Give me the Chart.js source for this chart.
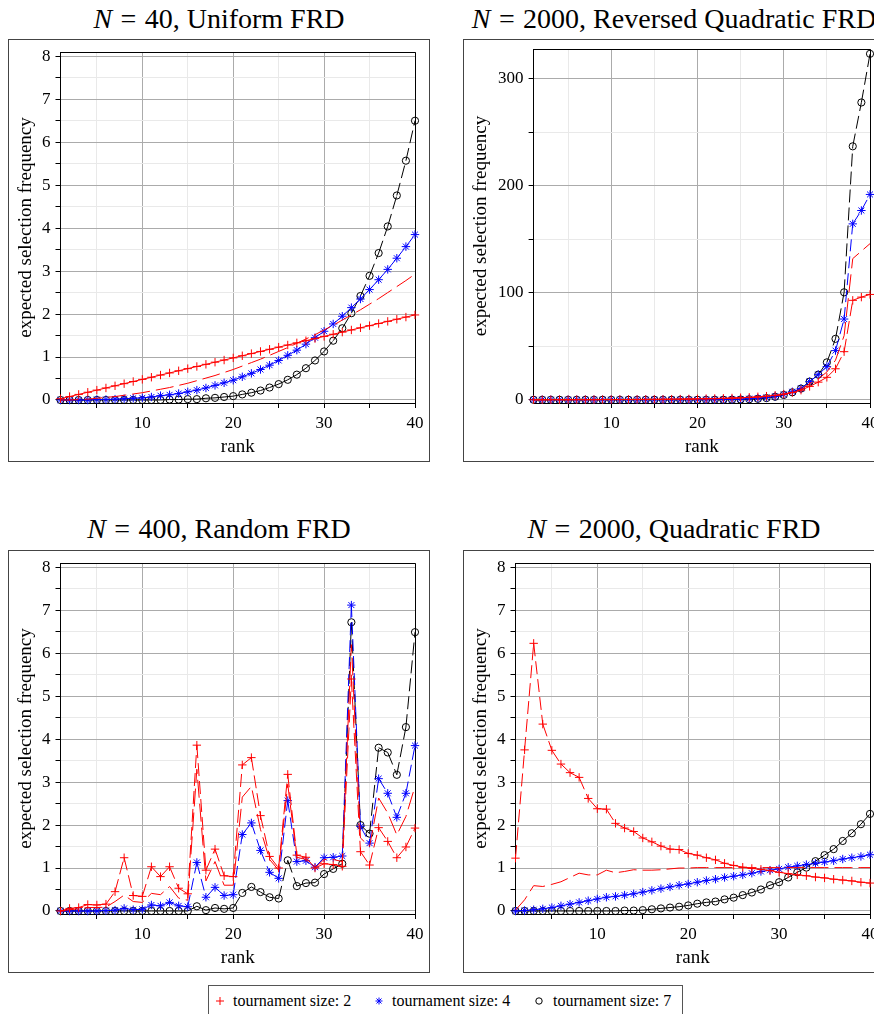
<!DOCTYPE html>
<html>
<head>
<meta charset="utf-8">
<title>Expected selection frequency</title>
<script src="https://cdn.jsdelivr.net/npm/chart.js@4/dist/chart.umd.min.js"></script>
<style>
  html, body { margin: 0; padding: 0; overflow: hidden; background: #fff; }
  body { position: relative; width: 874px; height: 1014px; font-family: "Liberation Serif", "Times New Roman", serif; color: #000; }
  .title { position: absolute; width: 422px; text-align: center; font-size: 28px; line-height: 1; white-space: nowrap; }
  .title .eq { margin: 0 0.3em; }
  .frame { position: absolute; width: 422px; height: 423px; border: 1px solid #444; box-sizing: border-box; }
  .frame canvas { display: block; }
  .legend { position: absolute; left: 208px; top: 985px; width: 475px; height: 40px; border: 1px solid #555; box-sizing: border-box; }
  .legend svg { position: absolute; top: 10px; }
  .legend span { position: absolute; top: 6px; font-size: 16px; line-height: 18px; white-space: nowrap; }
</style>
</head>
<body>

<div class="title" style="left:8px; top:5px"><i>N</i><span class="eq">=</span>40, Uniform FRD</div>
<div class="frame" style="left:8px; top:39px"><canvas id="uniform" width="420" height="421"></canvas></div>

<div class="title" style="left:463px; top:5px"><i>N</i><span class="eq">=</span>2000, Reversed Quadratic FRD</div>
<div class="frame" style="left:463px; top:39px"><canvas id="reversed" width="420" height="421"></canvas></div>

<div class="title" style="left:8px; top:515px"><i>N</i><span class="eq">=</span>400, Random FRD</div>
<div class="frame" style="left:8px; top:550px"><canvas id="random" width="420" height="421"></canvas></div>

<div class="title" style="left:463px; top:515px"><i>N</i><span class="eq">=</span>2000, Quadratic FRD</div>
<div class="frame" style="left:463px; top:550px"><canvas id="quadratic" width="420" height="421"></canvas></div>

<div class="legend">
  <svg style="left:6px" width="10" height="10"><path d="M5 1V9M1 5H9" stroke="#f00" stroke-width="1"/></svg>
  <span style="left:24px">tournament size: 2</span>
  <svg style="left:165px" width="10" height="10"><path d="M5 1.5V8.5M1.5 5H8.5M2.5 2.5L7.5 7.5M7.5 2.5L2.5 7.5" stroke="#00f" stroke-width="1"/></svg>
  <span style="left:183px">tournament size: 4</span>
  <svg style="left:325px" width="10" height="10"><circle cx="5" cy="5" r="3.2" fill="none" stroke="#000" stroke-width="1"/></svg>
  <span style="left:344px">tournament size: 7</span>
</div>

<script>
const ranks = Array.from({ length: 40 }, (_, i) => i + 1);
const rankTicks = [5, 10, 15, 20, 25, 30, 35, 40];
const freqTicks = [0, 0.5, 1, 1.5, 2, 2.5, 3, 3.5, 4, 4.5, 5, 5.5, 6, 6.5, 7, 7.5, 8];
const bigFreqTicks = [0, 50, 100, 150, 200, 250, 300];

// N = 40, uniform fitness
const uniformT2 = [0.03, 0.08, 0.13, 0.18, 0.23, 0.28, 0.33, 0.38, 0.43, 0.48, 0.53, 0.58, 0.63, 0.68, 0.73, 0.78, 0.83, 0.88, 0.93, 0.98,
                   1.03, 1.08, 1.13, 1.18, 1.23, 1.28, 1.33, 1.38, 1.43, 1.48, 1.53, 1.58, 1.63, 1.68, 1.73, 1.78, 1.83, 1.88, 1.93, 1.98];
const uniformT3 = [0, 0, 0.01, 0.02, 0.04, 0.06, 0.08, 0.11, 0.14, 0.17, 0.21, 0.25, 0.29, 0.34, 0.39, 0.45, 0.51, 0.57, 0.64, 0.71,
                   0.79, 0.87, 0.95, 1.04, 1.13, 1.22, 1.32, 1.42, 1.52, 1.63, 1.74, 1.86, 1.98, 2.10, 2.23, 2.36, 2.50, 2.64, 2.78, 2.93];
const uniformT4 = [0, 0, 0, 0, 0.01, 0.01, 0.02, 0.03, 0.04, 0.05, 0.07, 0.10, 0.12, 0.15, 0.19, 0.23, 0.28, 0.34, 0.40, 0.46,
                   0.54, 0.62, 0.71, 0.81, 0.92, 1.04, 1.16, 1.30, 1.45, 1.60, 1.77, 1.95, 2.15, 2.35, 2.57, 2.80, 3.04, 3.30, 3.57, 3.85];
const uniformT7 = [0, 0, 0, 0, 0, 0, 0, 0, 0, 0, 0, 0, 0.01, 0.01, 0.02, 0.02, 0.04, 0.05, 0.07, 0.09,
                   0.13, 0.17, 0.22, 0.29, 0.37, 0.47, 0.59, 0.74, 0.92, 1.13, 1.38, 1.67, 2.02, 2.42, 2.89, 3.42, 4.04, 4.76, 5.57, 6.50];

// N = 2000, reversed quadratic fitness
const reversedT2 = [0.01, 0.02, 0.04, 0.06, 0.08, 0.1, 0.12, 0.15, 0.18, 0.21, 0.25, 0.29, 0.33, 0.38, 0.44, 0.5, 0.58, 0.67, 0.78, 0.9,
                    1.05, 1.2, 1.4, 1.65, 1.95, 2.3, 2.8, 3.4, 4.2, 5.3, 6.8, 9.0, 12.5, 16.5, 21.0, 29.0, 45.0, 93.0, 96.0, 98.5];
const reversedT3 = [0, 0.01, 0.02, 0.03, 0.04, 0.05, 0.06, 0.08, 0.1, 0.12, 0.14, 0.17, 0.2, 0.24, 0.28, 0.33, 0.39, 0.46, 0.55, 0.65,
                    0.78, 0.93, 1.1, 1.35, 1.65, 2.0, 2.5, 3.1, 3.9, 5.0, 6.8, 9.5, 15.0, 19.5, 26.0, 37.0, 60.0, 132.0, 139.0, 146.0];
const reversedT4 = [0, 0, 0, 0, 0, 0, 0, 0, 0, 0, 0, 0.01, 0.01, 0.01, 0.02, 0.02, 0.03, 0.04, 0.05, 0.06,
                    0.1, 0.15, 0.25, 0.4, 0.6, 1.0, 1.5, 2.2, 3.2, 5.0, 7.5, 10.5, 17.0, 23.5, 31.0, 46.0, 75.5, 164.5, 177.0, 192.0];
const reversedT7 = [0, 0, 0, 0, 0, 0, 0, 0, 0, 0, 0, 0, 0, 0, 0, 0, 0, 0, 0, 0,
                    0.01, 0.02, 0.05, 0.12, 0.25, 0.5, 0.9, 1.6, 2.8, 4.5, 7.0, 10.5, 17.0, 23.5, 35.0, 57.0, 100.5, 237.0, 278.0, 323.5];

// N = 400, random fitness
const randomT2 = [0, 0.06, 0.08, 0.15, 0.14, 0.16, 0.45, 1.24, 0.36, 0.34, 1.03, 0.80, 1.03, 0.53, 0.40, 3.86, 0.95, 1.44, 0.82, 0.80,
                  3.40, 3.57, 2.22, 1.27, 1.00, 3.18, 1.30, 1.25, 1.00, 1.10, 1.08, 1.04, 5.40, 1.38, 1.07, 1.94, 1.62, 1.24, 1.49, 1.93];
const randomT3 = [0, 0.03, 0.05, 0.08, 0.08, 0.09, 0.22, 0.37, 0.22, 0.2, 0.41, 0.38, 0.57, 0.3, 0.25, 3.3, 0.7, 1.15, 0.6, 0.6,
                  2.65, 2.9, 1.9, 1.2, 0.95, 2.95, 1.25, 1.2, 1.0, 1.2, 1.2, 1.15, 6.2, 1.7, 1.5, 2.63, 2.28, 1.77, 2.2, 2.9];
const randomT4 = [0, 0, 0, 0, 0, 0.01, 0.02, 0.06, 0.03, 0.04, 0.14, 0.12, 0.2, 0.12, 0.1, 1.13, 0.32, 0.55, 0.36, 0.38,
                  1.78, 2.05, 1.41, 0.9, 0.76, 2.57, 1.15, 1.17, 1.02, 1.24, 1.25, 1.28, 7.12, 1.97, 1.58, 3.08, 2.74, 2.18, 2.74, 3.85];
const randomT7 = [0, 0, 0, 0, 0, 0, 0, 0, 0, 0, 0, 0, 0, 0, 0, 0.11, 0.02, 0.07, 0.05, 0.07,
                  0.42, 0.56, 0.44, 0.32, 0.29, 1.18, 0.58, 0.65, 0.66, 0.86, 0.98, 1.1, 6.72, 2.0, 1.8, 3.8, 3.69, 3.17, 4.28, 6.49];

// N = 2000, quadratic fitness
const quadraticT2 = [1.23, 3.75, 6.23, 4.35, 3.74, 3.42, 3.22, 3.11, 2.62, 2.38, 2.37, 2.04, 1.93, 1.85, 1.70, 1.61, 1.51, 1.44, 1.43, 1.34,
                     1.30, 1.24, 1.19, 1.11, 1.06, 1.02, 0.99, 0.97, 0.94, 0.90, 0.87, 0.84, 0.82, 0.79, 0.77, 0.74, 0.72, 0.70, 0.67, 0.65];
const quadraticT3 = [0.02, 0.26, 0.59, 0.57, 0.62, 0.68, 0.78, 0.88, 0.84, 0.84, 0.95, 0.89, 0.92, 0.96, 0.95, 0.95, 0.96, 0.98, 1.0, 1.0,
                     1.01, 1.01, 1.01, 1.01, 1.01, 1.01, 1.01, 1.01, 1.01, 1.01, 1.01, 1.01, 1.01, 1.01, 1.01, 1.01, 1.01, 1.01, 1.01, 1.01];
const quadraticT4 = [0, 0.01, 0.03, 0.05, 0.08, 0.12, 0.16, 0.2, 0.24, 0.28, 0.32, 0.34, 0.37, 0.4, 0.44, 0.48, 0.52, 0.56, 0.6, 0.63,
                     0.67, 0.71, 0.74, 0.78, 0.81, 0.84, 0.88, 0.92, 0.95, 0.98, 1.02, 1.05, 1.08, 1.11, 1.14, 1.17, 1.21, 1.24, 1.27, 1.31];
const quadraticT7 = [0, 0, 0, 0, 0, 0, 0, 0, 0, 0, 0, 0, 0.01, 0.01, 0.02, 0.04, 0.06, 0.08, 0.1, 0.13,
                     0.17, 0.2, 0.22, 0.27, 0.31, 0.37, 0.43, 0.5, 0.6, 0.67, 0.78, 0.9, 1.01, 1.16, 1.3, 1.44, 1.63, 1.81, 2.02, 2.26];

const majorGrid = '#ababab';
const minorGrid = '#e9e9e9';

Chart.defaults.font.family = '"Liberation Serif", "Times New Roman", serif';
Chart.defaults.color = '#000';

// closes the plot box on the top and right
const plotBox = {
  id: 'plotBox',
  beforeDatasetsDraw(chart) {
    const { ctx, chartArea: a } = chart;
    ctx.save();
    ctx.strokeStyle = '#000';
    ctx.lineWidth = 1;
    ctx.beginPath();
    ctx.moveTo(Math.round(a.left), Math.round(a.top) + 0.5);
    ctx.lineTo(Math.round(a.right) + 0.5, Math.round(a.top) + 0.5);
    ctx.lineTo(Math.round(a.right) + 0.5, Math.round(a.bottom));
    ctx.stroke();
    ctx.restore();
  }
};

function line(label, values, color, marker, dash) {
  const ds = {
    label,
    data: ranks.map((r, i) => ({ x: r, y: values[i] })),
    borderColor: color,
    borderWidth: 1,
    borderDash: dash,
    pointStyle: marker || 'circle',
    pointRadius: marker ? (marker === 'circle' ? 3.6 : 4.2) : 0,
    pointBorderColor: color,
    pointBackgroundColor: 'rgba(0,0,0,0)',
    pointBorderWidth: 1,
    tension: 0,
    clip: 8
  };
  if (marker) {
    // marked series start their dash pattern again at every point
    ds.segment = { borderDashOffset: ctx => (ctx.p0DataIndex % 2) * 0.01 };
  }
  return ds;
}

function panel(id, t2, t3, t4, t7, yMin, yMax, yTicks, labelStep, yWidth, topPad) {
  new Chart(document.getElementById(id), {
    type: 'line',
    data: {
      datasets: [
        line('tournament size: 2', t2, '#ff0000', 'cross', [13, 5]),
        line('tournament size: 3', t3, '#ff0000', null, [18, 6]),
        line('tournament size: 4', t4, '#0000ff', 'star', [12, 5]),
        line('tournament size: 7', t7, '#000000', 'circle', [13, 5])
      ]
    },
    options: {
      responsive: false,
      animation: false,
      layout: { padding: { left: 2, top: topPad, right: 14, bottom: 2 } },
      plugins: { legend: { display: false }, tooltip: { enabled: false } },
      scales: {
        x: {
          type: 'linear',
          min: 1,
          max: 40,
          afterBuildTicks: axis => { axis.ticks = rankTicks.map(v => ({ value: v })); },
          afterFit: axis => { axis.height = 56; axis.paddingLeft = 0; axis.paddingRight = 0; },
          ticks: { callback: v => (v % 10 === 0 ? v : ''), font: { size: 17 }, padding: 5, maxRotation: 0, autoSkip: false },
          grid: { color: c => (c.tick && c.tick.value % 10 === 0 ? majorGrid : minorGrid), tickColor: '#000', tickLength: 5 },
          border: { color: '#000' },
          title: { display: true, text: 'rank', font: { size: 19 }, padding: { top: 2, bottom: 1 } }
        },
        y: {
          min: yMin,
          max: yMax,
          afterBuildTicks: axis => { axis.ticks = yTicks.map(v => ({ value: v })); },
          afterFit: axis => { axis.width = yWidth; axis.paddingTop = 0; axis.paddingBottom = 0; },
          ticks: { callback: v => (v % labelStep === 0 ? v : ''), font: { size: 17 }, padding: 5, autoSkip: false },
          grid: { color: c => (c.tick && c.tick.value % labelStep === 0 ? majorGrid : minorGrid), tickColor: '#000', tickLength: 5 },
          border: { color: '#000' },
          title: { display: true, text: 'expected selection frequency', font: { size: 19 }, padding: { top: 4, bottom: 4 } }
        }
      }
    },
    plugins: [plotBox]
  });
}

panel('uniform', uniformT2, uniformT3, uniformT4, uniformT7, -0.07, 8.1, freqTicks, 1, 49.5, 12);
panel('reversed', reversedT2, reversedT3, reversedT4, reversedT7, -3, 328, bigFreqTicks, 100, 67.6, 9);
panel('random', randomT2, randomT3, randomT4, randomT7, -0.07, 8.1, freqTicks, 1, 49.5, 12);
panel('quadratic', quadraticT2, quadraticT3, quadraticT4, quadraticT7, -0.07, 8.1, freqTicks, 1, 49.5, 12);
</script>
</body>
</html>
